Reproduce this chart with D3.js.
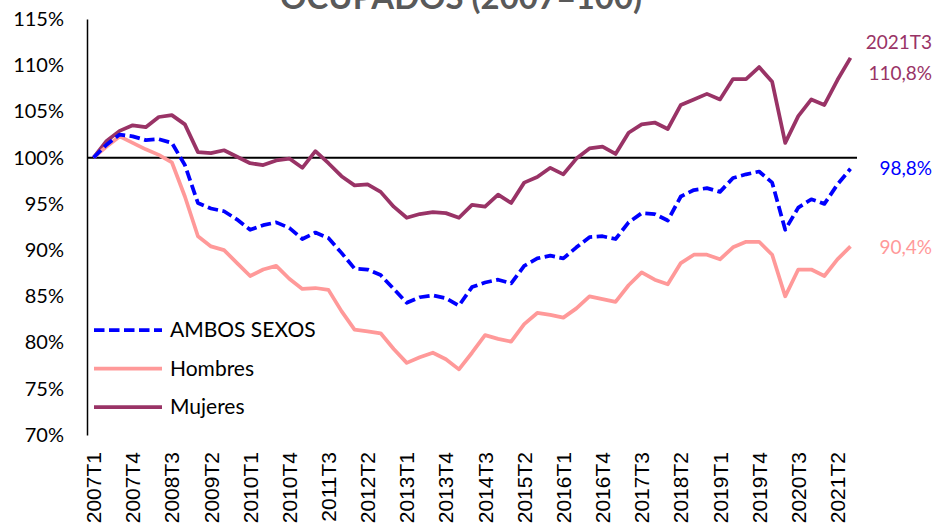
<!DOCTYPE html>
<html>
<head>
<meta charset="utf-8">
<script src="https://cdn.jsdelivr.net/npm/d3@7"></script>
<style>
  body { margin: 0; background: #fff; }
  svg { display: block; }
</style>
</head>
<body>
<div id="chart"></div>
<script>
const quarters = [
  "2007T1","2007T2","2007T3","2007T4","2008T1","2008T2","2008T3","2008T4",
  "2009T1","2009T2","2009T3","2009T4","2010T1","2010T2","2010T3","2010T4",
  "2011T1","2011T2","2011T3","2011T4","2012T1","2012T2","2012T3","2012T4",
  "2013T1","2013T2","2013T3","2013T4","2014T1","2014T2","2014T3","2014T4",
  "2015T1","2015T2","2015T3","2015T4","2016T1","2016T2","2016T3","2016T4",
  "2017T1","2017T2","2017T3","2017T4","2018T1","2018T2","2018T3","2018T4",
  "2019T1","2019T2","2019T3","2019T4","2020T1","2020T2","2020T3","2020T4",
  "2021T1","2021T2","2021T3"
];

const ambos = [100, 101.4, 102.5, 102.3, 101.9, 102.0, 101.6, 99.2, 95.1, 94.5,
  94.2, 93.3, 92.2, 92.7, 93.0, 92.4, 91.2, 91.9, 91.3, 89.7,
  88.0, 87.9, 87.3, 85.8, 84.3, 84.9, 85.1, 84.8, 84.0, 86.0,
  86.5, 86.8, 86.4, 88.3, 89.1, 89.4, 89.1, 90.3, 91.4, 91.5,
  91.2, 93.0, 94.0, 93.9, 93.2, 95.8, 96.5, 96.7, 96.3, 97.8,
  98.2, 98.5, 97.3, 92.2, 94.6, 95.5, 95.0, 97.1, 98.8];

const hombres = [100, 101.2, 102.3, 101.6, 100.9, 100.3, 99.5, 95.8, 91.5, 90.4,
  90.0, 88.6, 87.2, 87.9, 88.3, 86.9, 85.8, 85.9, 85.7, 83.4,
  81.4, 81.2, 81.0, 79.3, 77.8, 78.4, 78.9, 78.2, 77.1, 78.9,
  80.8, 80.4, 80.1, 82.0, 83.2, 83.0, 82.7, 83.7, 85.0, 84.7,
  84.4, 86.2, 87.6, 86.8, 86.3, 88.6, 89.5, 89.5, 89.0, 90.3,
  90.9, 90.9, 89.5, 85.0, 87.9, 87.9, 87.2, 89.0, 90.4];

const mujeres = [100, 101.8, 102.9, 103.5, 103.3, 104.4, 104.6, 103.6, 100.6, 100.5,
  100.8, 100.1, 99.4, 99.2, 99.7, 99.9, 98.9, 100.7, 99.4, 98.0,
  97.0, 97.1, 96.3, 94.7, 93.5, 93.9, 94.1, 94.0, 93.5, 94.9,
  94.7, 96.0, 95.1, 97.3, 97.9, 98.9, 98.2, 99.9, 101.0, 101.2,
  100.4, 102.7, 103.6, 103.8, 103.1, 105.7, 106.3, 106.9, 106.3, 108.5,
  108.5, 109.8, 108.2, 101.6, 104.5, 106.3, 105.7, 108.4, 110.8];

const yTicks = [70, 75, 80, 85, 90, 95, 100, 105, 110, 115];

const series = [
  { name: "AMBOS SEXOS", values: ambos, color: "#0000ff", dash: "10.5,4.5" },
  { name: "Hombres", values: hombres, color: "#ff9999", dash: null },
  { name: "Mujeres", values: mujeres, color: "#993366", dash: null }
];

const width = 937, height = 527;
const FONT = "Lato, 'Open Sans', sans-serif";

const svg = d3.select("#chart").append("svg")
  .attr("width", width)
  .attr("height", height);

const x = d3.scaleBand().domain(quarters).range([87, 857]).padding(0);
const y = d3.scaleLinear().domain([70, 115]).range([435, 19]);
const cx = d => x(d) + x.bandwidth() / 2;

// title (cut at the top in the original)
const title = svg.append("text")
  .attr("x", 461)
  .attr("y", 9)
  .attr("text-anchor", "middle")
  .style("font-family", FONT)
  .style("font-weight", "bold")
  .style("font-size", "30px")
  .attr("fill", "#595959")
  .text("OCUPADOS (2007=100)");
// fit title width to the reference
const tw = title.node().getComputedTextLength();
title.style("font-size", (30 * 362 / tw) + "px");

// y axis
const yAxis = svg.append("g")
  .attr("transform", "translate(87,0)")
  .call(d3.axisLeft(y).tickValues(yTicks).tickSize(0).tickSizeOuter(0).tickPadding(23)
    .tickFormat(d => d + "%"));
yAxis.select(".domain").attr("stroke", "#000").attr("stroke-width", 1.5);
yAxis.selectAll("text")
  .style("font-family", FONT)
  .style("font-size", "20px")
  .attr("fill", "#000");

// 100% reference line
svg.append("line")
  .attr("x1", 87).attr("x2", 857)
  .attr("y1", y(100)).attr("y2", y(100))
  .attr("stroke", "#000")
  .attr("stroke-width", 2);

// x labels (every 3rd quarter)
const xAxis = svg.append("g")
  .attr("transform", "translate(0,452)")
  .call(d3.axisBottom(x).tickValues(quarters.filter((d, i) => i % 3 === 0)).tickSize(0).tickPadding(0));
xAxis.select(".domain").remove();
xAxis.selectAll("text")
  .attr("transform", "rotate(-90)")
  .attr("text-anchor", "end")
  .attr("x", 0)
  .attr("y", 0)
  .attr("dy", "0.36em")
  .style("font-family", "'Liberation Sans', Arial, sans-serif")
  .style("font-size", "21px")
  .attr("fill", "#000");

// lines
const line = d3.line()
  .x((d, i) => cx(quarters[i]))
  .y(d => y(d));

svg.append("g")
  .selectAll("path")
  .data(series.slice().reverse())
  .enter().append("path")
  .attr("d", d => line(d.values))
  .attr("fill", "none")
  .attr("stroke", d => d.color)
  .attr("stroke-width", 3.75)
  .attr("stroke-linejoin", "round")
  .attr("stroke-dasharray", d => d.dash);

// legend
const legend = svg.append("g")
  .selectAll("g")
  .data(series)
  .enter().append("g")
  .attr("transform", (d, i) => `translate(94,${330 + i * 38.5})`);

legend.append("line")
  .attr("x1", 0).attr("x2", 68)
  .attr("stroke", d => d.color)
  .attr("stroke-width", 3.75)
  .attr("stroke-dasharray", d => d.dash);

legend.append("text")
  .attr("x", 76)
  .attr("dy", "0.35em")
  .style("font-family", FONT)
  .style("font-size", "21px")
  .attr("fill", "#000")
  .text(d => d.name);

// end labels
const last = quarters.length - 1;
const fmt = v => v.toFixed(1).replace(".", ",") + "%";
const endLabels = [
  { text: quarters[last], y: 42, color: "#993366" },
  { text: fmt(mujeres[last]), y: 73, color: "#993366" },
  { text: fmt(ambos[last]), y: 168, color: "#0000ff" },
  { text: fmt(hombres[last]), y: 247, color: "#ff9999" }
];

svg.append("g")
  .selectAll("text")
  .data(endLabels)
  .enter().append("text")
  .attr("x", 932)
  .attr("y", d => d.y)
  .attr("dy", "0.35em")
  .attr("text-anchor", "end")
  .style("font-family", FONT)
  .style("font-size", "19px")
  .attr("fill", d => d.color)
  .text(d => d.text);
</script>
</body>
</html>
